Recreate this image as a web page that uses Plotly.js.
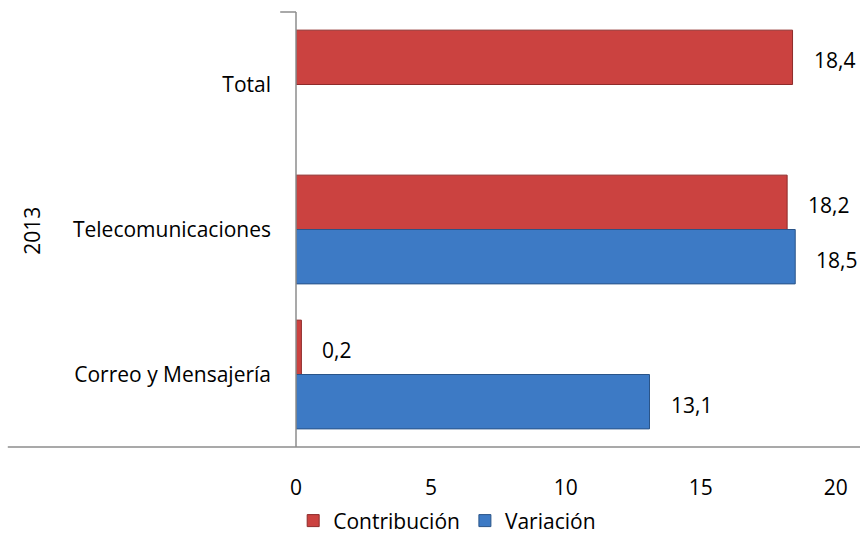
<!DOCTYPE html>
<html>
<head>
<meta charset="utf-8">
<script src="https://cdn.plot.ly/plotly-3.0.1.min.js"></script>
<style>html,body{margin:0;padding:0;background:#fff;}#chart{width:860px;height:542px;}</style>
</head>
<body>
<div id="chart"></div>
<script>
var categories = ['Total', 'Telecomunicaciones', 'Correo y Mensajería'];
var contribucion = [18.4, 18.2, 0.2];
var variacion = [null, 18.5, 13.1];
var seriesNames = ['Contribución', 'Variación'];
var groupLabel = '2013';
var xTicks = [0, 5, 10, 15, 20];

var RED = '#CB4240', BLUE = '#3D7AC5';
var FONT = 'Open Sans, Noto Sans, sans-serif';
var FS = 21;

function fmt(v) { return v.toFixed(1).replace('.', ','); }

var traces = [
  {type: 'bar', orientation: 'h', name: seriesNames[0], y: categories, x: contribucion,
   marker: {color: RED, line: {color: '#8E2B2A', width: 1}}, hoverinfo: 'x'},
  {type: 'bar', orientation: 'h', name: seriesNames[1], y: categories, x: variacion,
   marker: {color: BLUE, line: {color: '#2A5488', width: 1}}, hoverinfo: 'x'}
];

var annotations = [];
var series = [contribucion, variacion];
var shifts = [27.5, -27.5];
series.forEach(function (arr, s) {
  arr.forEach(function (v, i) {
    if (v === null) return;
    annotations.push({x: v, y: categories[i], xref: 'x', yref: 'y', text: fmt(v),
      showarrow: false, xanchor: 'left', yanchor: 'middle', xshift: 19, yshift: shifts[s] - 3,
      font: {family: FONT, size: FS, color: '#000'}});
  });
});
annotations.push({x: -0.468, y: 0.497, xref: 'paper', yref: 'paper', text: groupLabel, showarrow: false,
  textangle: -90, xanchor: 'center', yanchor: 'middle', font: {family: FONT, size: FS, color: '#000'}});

var layout = {
  width: 860, height: 542,
  margin: {l: 296, r: 0, t: 12, b: 89},
  paper_bgcolor: '#fff', plot_bgcolor: '#fff',
  barmode: 'group', bargap: 0.25, bargroupgap: 0,
  showlegend: true,
  legend: {orientation: 'h', x: -0.005, xanchor: 'left', y: -0.17, yanchor: 'middle',
    font: {family: FONT, size: FS, color: '#000'}, itemwidth: 30, traceorder: 'normal'},
  xaxis: {range: [0, 20.9], tickvals: xTicks, ticktext: xTicks.map(String), showgrid: false, zeroline: false,
    showline: false, ticks: '', ticklabelstandoff: 26, tickfont: {family: FONT, size: FS, color: '#000'}, fixedrange: true},
  yaxis: {type: 'category', autorange: 'reversed', showgrid: false, zeroline: false, showline: false,
    ticks: '', ticklabelstandoff: 24, tickfont: {family: FONT, size: FS, color: '#000'}, fixedrange: true},
  shapes: [
    {type: 'line', xref: 'paper', yref: 'paper', x0: -0.511, x1: 1, y0: 0, y1: 0, line: {color: '#8c8c8c', width: 1.5}},
    {type: 'line', xref: 'paper', yref: 'paper', x0: 0, x1: 0, y0: 0, y1: 1, line: {color: '#8c8c8c', width: 1.5}},
    {type: 'line', xref: 'paper', yref: 'paper', x0: -0.028, x1: 0, y0: 1, y1: 1, line: {color: '#8c8c8c', width: 1.5}}
  ],
  annotations: annotations
};

Plotly.newPlot('chart', traces, layout, {displayModeBar: false, staticPlot: true});
</script>
</body>
</html>
